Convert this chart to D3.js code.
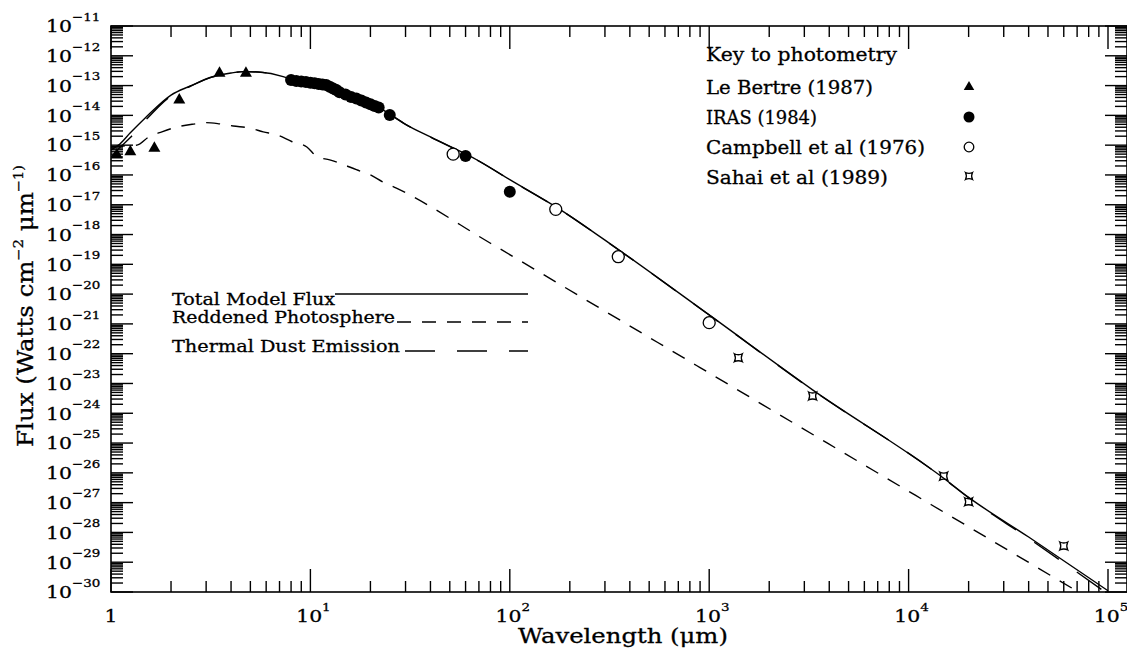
<!DOCTYPE html>
<html>
<head>
<meta charset="utf-8">
<title>Spectral energy distribution</title>
<script src="https://cdn.jsdelivr.net/npm/d3@7/dist/d3.min.js"></script>
<style>
  html, body { margin: 0; padding: 0; background: #fff; }
  svg { display: block; }
  text { font-family: "DejaVu Serif", "Liberation Serif", serif; fill: #000; stroke: #000; stroke-width: 0.3px; }
</style>
</head>
<body>
<svg id="chart" width="1127" height="654"></svg>
<script>
// ---------------- data ----------------
// axis decades (powers of ten)
const decadesX = [0, 1, 2, 3, 4, 5];
const decadesY = [-11, -12, -13, -14, -15, -16, -17, -18, -19, -20,
                  -21, -22, -23, -24, -25, -26, -27, -28, -29, -30];

// photometry (wavelength in micron, flux in W cm^-2 um^-1)
const leBertreWavelength = [1.07, 1.25, 1.65, 2.2, 3.5, 4.75];
const leBertreFlux       = [4.7e-16, 6.0e-16, 7.9e-16, 3.3e-14, 2.6e-13, 2.6e-13];

const irasWavelength = [8.0, 8.5, 9.0, 9.5, 10, 10.5, 11, 11.5, 12, 12.5, 13, 13.5, 14,
                        15, 16, 17, 18, 19, 20, 21, 22, 25, 60, 100];
const irasFlux       = [1.54e-13, 1.43e-13, 1.37e-13, 1.31e-13, 1.24e-13, 1.19e-13, 1.14e-13,
                        1.09e-13, 1.05e-13, 9.1e-14, 8.0e-14, 7.1e-14, 6.0e-14, 5.0e-14,
                        4.1e-14, 3.66e-14, 3.16e-14, 2.69e-14, 2.36e-14, 2.07e-14, 1.84e-14,
                        1.03e-14, 4.3e-16, 2.74e-17];

const campbellWavelength = [52, 170, 350, 1000];
const campbellFlux       = [5.0e-16, 7.0e-18, 1.8e-19, 1.1e-21];

const sahaiWavelength = [1400, 3300, 15000, 20000, 60000];
const sahaiFlux       = [7.3e-23, 3.8e-24, 7.8e-27, 1.07e-27, 3.5e-29];

// model curves
const modelWavelength = [1.0, 1.09, 1.25, 1.48, 2.0, 2.5, 3.2, 4.0, 4.6, 5.5, 7.3, 8.0, 10, 12,
                         15, 18, 22, 25, 30, 40, 70, 100, 175, 350, 1000, 3300, 15000, 20000,
                         40000, 100000];
const totalFlux = [7.0e-16, 1.0e-15, 2.6e-15, 8.0e-15, 4.8e-14, 9.7e-14, 1.94e-13, 2.64e-13,
                   2.95e-13, 2.85e-13, 2.0e-13, 1.6e-13, 1.24e-13, 1.05e-13, 5.0e-14, 3.16e-14,
                   1.84e-14, 1.1e-14, 5.0e-15, 1.88e-15, 2.94e-16, 7.0e-17, 7.6e-18, 3.14e-19,
                   2.0e-21, 6.1e-24, 6.6e-27, 1.5e-27, 7.0e-29, 1.1e-30];
const dustFlux  = [4.0e-16, 7.5e-16, 1.8e-15, 6.5e-15, 4.5e-14, 9.5e-14, 1.92e-13, 2.62e-13,
                   2.93e-13, 2.83e-13, 1.98e-13, 1.58e-13, 1.23e-13, 1.04e-13, 4.95e-14, 3.13e-14,
                   1.82e-14, 1.09e-14, 4.95e-15, 1.86e-15, 2.9e-16, 6.9e-17, 7.5e-18, 3.1e-19,
                   1.98e-21, 6.0e-24, 6.5e-27, 1.45e-27, 6.3e-29, 8.5e-31];

const photWavelength = [1.0, 1.15, 1.35, 1.55, 1.8, 2.15, 2.6, 3.0, 3.5, 4.1, 5.0, 5.8, 6.8, 8.1,
                        9.6, 10.8, 12.5, 14, 17, 20, 23, 27, 80, 300, 900, 3900, 13000, 42000,
                        72000];
const photFlux = [8.5e-16, 9.4e-16, 1.0e-15, 1.9e-15, 2.8e-15, 4.1e-15, 5.1e-15, 5.7e-15, 5.2e-15,
                  4.4e-15, 3.7e-15, 2.8e-15, 2.2e-15, 1.3e-15, 8.7e-16, 4.1e-16, 3.2e-16, 2.5e-16,
                  1.5e-16, 1.0e-16, 5.9e-17, 3.6e-17, 5.1e-19, 2.67e-21, 3.41e-23, 1.01e-25,
                  8.5e-28, 8.1e-30, 9.5e-31];

// legend texts
const photometryTitle = "Key to photometry";
const photometryNames = ["Le Bertre (1987)", "IRAS (1984)", "Campbell et al (1976)", "Sahai et al (1989)"];
const modelNames = ["Total Model Flux", "Reddened Photosphere", "Thermal Dust Emission"];

// ---------------- layout ----------------
const plot = { left: 111, top: 26, right: 1127, bottom: 592, xEnd: 1108 };
const svg = d3.select("#chart");

const x = d3.scaleLog().domain([1, 1e5]).range([plot.left, plot.xEnd]);
const y = d3.scaleLog().domain([1e-30, 1e-11]).range([plot.bottom, plot.top]);

const zip = (a, b) => a.map((v, i) => [v, b[i]]);

// concave-sided square used for the millimetre photometry
const symbolSahai = {
  draw(ctx, size) {
    const s = Math.sqrt(size) / 2, k = s * 0.5;
    ctx.moveTo(-s, -s);
    ctx.quadraticCurveTo(0, -s + k, s, -s);
    ctx.quadraticCurveTo(s - k, 0, s, s);
    ctx.quadraticCurveTo(0, s - k, -s, s);
    ctx.quadraticCurveTo(-s + k, 0, -s, -s);
    ctx.closePath();
  }
};

// ---------------- frame and ticks ----------------
svg.append("rect")
  .attr("x", plot.left).attr("y", plot.top)
  .attr("width", plot.right - plot.left).attr("height", plot.bottom - plot.top)
  .attr("fill", "none").attr("stroke", "#000").attr("stroke-width", 1.6);

const ticks = svg.append("g").attr("stroke", "#000").attr("stroke-width", 1.4);
const majorLen = 22, minorLen = 11;

const xMajor = decadesX.map(e => Math.pow(10, e));
const xMinor = [];
decadesX.slice(0, -1).forEach(e => { for (let m = 2; m <= 9; m++) xMinor.push(m * Math.pow(10, e)); });
const yMajor = decadesY.map(e => Math.pow(10, e));
const yMinor = [];
decadesY.slice(1).forEach(e => { for (let m = 2; m <= 9; m++) yMinor.push(m * Math.pow(10, e)); });

function xTicks(values, len) {
  values.forEach(v => {
    const px = x(v);
    ticks.append("line").attr("x1", px).attr("x2", px).attr("y1", plot.bottom).attr("y2", plot.bottom - len);
    ticks.append("line").attr("x1", px).attr("x2", px).attr("y1", plot.top).attr("y2", plot.top + len);
  });
}
function yTicks(values, len) {
  values.forEach(v => {
    const py = y(v);
    ticks.append("line").attr("y1", py).attr("y2", py).attr("x1", plot.left).attr("x2", plot.left + len);
    ticks.append("line").attr("y1", py).attr("y2", py).attr("x1", plot.right).attr("x2", plot.right - len);
  });
}
xTicks(xMajor, majorLen + 1);
xTicks(xMinor, minorLen);
yTicks(yMajor, majorLen);
yTicks(yMinor, minorLen + 1);

// ---------------- tick labels ----------------
const probe = svg.append("text").attr("font-size", 17.5).text("10");
const tickStretch = 26 / probe.node().getComputedTextLength();
probe.remove();

decadesY.forEach(e => {
  const g = svg.append("g")
    .attr("transform", `translate(46,${y(Math.pow(10, e)) + 6.3}) scale(${tickStretch},1)`);
  const t = g.append("text").attr("font-size", 17.5);
  t.append("tspan").text("10");
  t.append("tspan").attr("font-size", 11.5).attr("dy", -11.5).text("\u2212" + Math.abs(e));
});

decadesX.forEach(e => {
  const g = svg.append("g")
    .attr("transform", `translate(${x(Math.pow(10, e)) + (e === 0 ? 0 : 3)},622) scale(${tickStretch},1)`);
  const t = g.append("text").attr("font-size", 17.5).attr("text-anchor", "middle");
  if (e === 0) {
    t.text("1");
  } else {
    t.append("tspan").text("10");
    t.append("tspan").attr("font-size", 11.5).attr("dy", -11).text(e);
  }
});

// ---------------- axis titles ----------------
function stretchTo(textSel, width) {
  return width / textSel.node().getComputedTextLength();
}

const xTitleG = svg.append("g");
const xTitle = xTitleG.append("text").attr("font-size", 20).attr("text-anchor", "middle")
  .text("Wavelength (\u03bcm)");
xTitleG.attr("transform", `translate(623,643) scale(${stretchTo(xTitle, 210)},1)`);

const yTitleG = svg.append("g");
const yTitle = yTitleG.append("text").attr("font-size", 22).attr("text-anchor", "middle");
yTitle.append("tspan").text("Flux (Watts cm");
yTitle.append("tspan").attr("font-size", 13).attr("dy", -10).text("\u22122");
yTitle.append("tspan").attr("dy", 10).text(" \u03bcm");
yTitle.append("tspan").attr("font-size", 13).attr("dy", -10).text("\u22121)");
yTitleG.attr("transform", `translate(33,306) rotate(-90) scale(${stretchTo(yTitle, 282)},1)`);

// ---------------- model curves ----------------
svg.append("clipPath").attr("id", "plot-area")
  .append("rect").attr("x", plot.left).attr("y", plot.top)
  .attr("width", plot.right - plot.left).attr("height", plot.bottom - plot.top);

const curves = svg.append("g").attr("clip-path", "url(#plot-area)")
  .attr("fill", "none").attr("stroke", "#000").attr("stroke-width", 1.4);

const line = d3.line().x(d => x(d[0])).y(d => y(d[1])).curve(d3.curveMonotoneX);

curves.append("path").attr("d", line(zip(photWavelength, photFlux)))
  .attr("stroke-dasharray", "14,11");
curves.append("path").attr("d", line(zip(modelWavelength, dustFlux)))
  .attr("stroke-dasharray", "30,22");
curves.append("path").attr("d", line(zip(modelWavelength, totalFlux)));

// ---------------- photometry markers ----------------
const marks = svg.append("g");

marks.selectAll("path.tri").data(zip(leBertreWavelength, leBertreFlux)).join("path")
  .attr("class", "tri")
  .attr("transform", d => `translate(${x(d[0])},${y(d[1])})`)
  .attr("d", d3.symbol(d3.symbolTriangle, 62)())
  .attr("fill", "#000");

marks.selectAll("circle.iras").data(zip(irasWavelength, irasFlux)).join("circle")
  .attr("class", "iras")
  .attr("cx", d => x(d[0])).attr("cy", d => y(d[1])).attr("r", 6)
  .attr("fill", "#000");

marks.selectAll("circle.campbell").data(zip(campbellWavelength, campbellFlux)).join("circle")
  .attr("class", "campbell")
  .attr("cx", d => x(d[0])).attr("cy", d => y(d[1])).attr("r", 6)
  .attr("fill", "#fff").attr("stroke", "#000").attr("stroke-width", 1.3);

marks.selectAll("path.sahai").data(zip(sahaiWavelength, sahaiFlux)).join("path")
  .attr("class", "sahai")
  .attr("transform", d => `translate(${x(d[0])},${y(d[1])})`)
  .attr("d", d3.symbol(symbolSahai, 64)())
  .attr("fill", "none").attr("stroke", "#000").attr("stroke-width", 1.3);

// ---------------- photometry key ----------------
const key = svg.append("g");
const keyTextX = 706, keyMarkX = 969;
const keyBaselines = [61, 94, 124, 154, 184];
const keyWidths = [191, 167, 111, 219, 182];
const keyLabels = [photometryTitle].concat(photometryNames);

keyLabels.forEach((s, i) => {
  key.append("text").attr("x", keyTextX).attr("y", keyBaselines[i])
    .attr("font-size", 19).attr("textLength", keyWidths[i])
    .attr("lengthAdjust", "spacingAndGlyphs").text(s);
});

key.append("path").attr("transform", `translate(${keyMarkX},${keyBaselines[1] - 7})`)
  .attr("d", d3.symbol(d3.symbolTriangle, 48)()).attr("fill", "#000");
key.append("circle").attr("cx", keyMarkX).attr("cy", keyBaselines[2] - 7).attr("r", 5.5)
  .attr("fill", "#000");
key.append("circle").attr("cx", keyMarkX).attr("cy", keyBaselines[3] - 7).attr("r", 4.8)
  .attr("fill", "#fff").attr("stroke", "#000").attr("stroke-width", 1.3);
key.append("path").attr("transform", `translate(${keyMarkX},${keyBaselines[4] - 8})`)
  .attr("d", d3.symbol(symbolSahai, 49)())
  .attr("fill", "none").attr("stroke", "#000").attr("stroke-width", 1.3);

// ---------------- model key ----------------
const modelKey = svg.append("g");
const modelTextX = 172;
const modelBaselines = [305, 323, 352];
const modelWidths = [163, 223, 228];
const modelLineY = [294, 322, 351];
const modelLineStart = [335, 397, 405];
const modelLineEnd = 528;
const modelDash = [null, "14,11", "30,22"];

modelNames.forEach((s, i) => {
  modelKey.append("text").attr("x", modelTextX).attr("y", modelBaselines[i])
    .attr("font-size", 17).attr("textLength", modelWidths[i])
    .attr("lengthAdjust", "spacingAndGlyphs").text(s);
  const ln = modelKey.append("line")
    .attr("x1", modelLineStart[i]).attr("x2", modelLineEnd)
    .attr("y1", modelLineY[i]).attr("y2", modelLineY[i])
    .attr("stroke", "#000").attr("stroke-width", 1.4);
  if (modelDash[i]) ln.attr("stroke-dasharray", modelDash[i]);
});
</script>
</body>
</html>
